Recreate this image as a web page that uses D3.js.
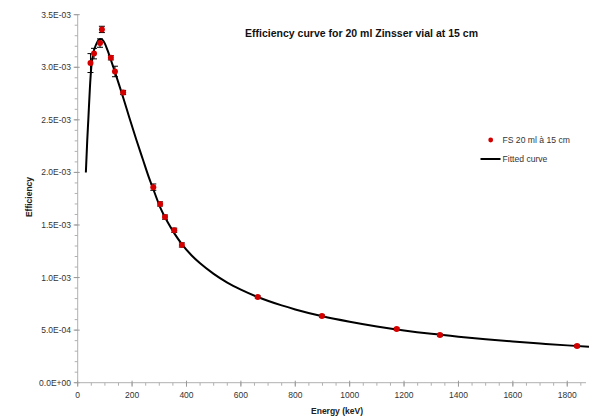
<!DOCTYPE html>
<html>
<head>
<meta charset="utf-8">
<script src="https://cdn.jsdelivr.net/npm/d3@7"></script>
<style>
  body { margin: 0; background: #fff; }
  svg { display: block; font-family: "Liberation Sans", Arial, sans-serif; }
</style>
</head>
<body>
<svg id="chart" width="589" height="416"></svg>
<script>
// measured points (energy in keV, efficiency and its uncertainty)
const energies = [47, 60, 82, 89, 122, 137, 167, 278, 303, 321, 355, 383, 662, 898, 1173, 1332, 1836];
const efficiency = [3.04e-3, 3.13e-3, 3.23e-3, 3.36e-3, 3.09e-3, 2.96e-3, 2.76e-3, 1.86e-3, 1.70e-3, 1.575e-3, 1.45e-3, 1.31e-3, 0.815e-3, 0.634e-3, 0.51e-3, 0.453e-3, 0.349e-3];
const uncertainty = [0.09e-3, 0.05e-3, 0.04e-3, 0.03e-3, 0.02e-3, 0.05e-3, 0.02e-3, 0.03e-3, 0.02e-3, 0.02e-3, 0.02e-3, 0.02e-3, 0.01e-3, 0.01e-3, 0.01e-3, 0.01e-3, 0.01e-3];

// fitted curve
const fitEnergy = [30, 35, 39, 45, 50, 57, 65, 70, 77, 85, 92, 100, 110, 122, 137, 152, 168, 190, 215, 240, 262, 278, 303, 330, 356, 383, 420, 450, 500, 550, 600, 662, 750, 800, 900, 1000, 1100, 1200, 1300, 1400, 1500, 1600, 1700, 1800, 1880];
const fitEfficiency = [2.00e-3, 2.30e-3, 2.50e-3, 2.81e-3, 3.00e-3, 3.13e-3, 3.20e-3, 3.23e-3, 3.26e-3, 3.27e-3, 3.258e-3, 3.225e-3, 3.16e-3, 3.07e-3, 2.955e-3, 2.835e-3, 2.705e-3, 2.52e-3, 2.315e-3, 2.12e-3, 1.95e-3, 1.84e-3, 1.67e-3, 1.53e-3, 1.418e-3, 1.318e-3, 1.207e-3, 1.135e-3, 1.035e-3, 0.952e-3, 0.885e-3, 0.815e-3, 0.735e-3, 0.697e-3, 0.632e-3, 0.58e-3, 0.535e-3, 0.497e-3, 0.465e-3, 0.438e-3, 0.414e-3, 0.392e-3, 0.373e-3, 0.355e-3, 0.342e-3];

const xMajor = [0, 200, 400, 600, 800, 1000, 1200, 1400, 1600, 1800];
const yMajor = [0, 0.5e-3, 1.0e-3, 1.5e-3, 2.0e-3, 2.5e-3, 3.0e-3, 3.5e-3];

const titleText = "Efficiency curve for 20 ml Zinsser vial at 15 cm";
const legendLabels = ["FS 20 ml à 15 cm", "Fitted curve"];

const svg = d3.select("#chart");

const x = d3.scaleLinear().domain([0, 1880]).range([77.7, 589]);
const y = d3.scaleLinear().domain([0, 3.5e-3]).range([382.7, 14.7]);

// scientific labels like 3.5E-03
function sci(v) {
    if (v === 0) return "0.0E+00";
    const e = Math.floor(Math.log10(v) + 1e-9);
    const m = v / Math.pow(10, e);
    const sign = e < 0 ? "-" : "+";
    return m.toFixed(1) + "E" + sign + String(Math.abs(e)).padStart(2, "0");
}

const axisColor = "#b0b0b0";
const textColor = "#333";

// y axis
const yAxis = svg.append("g");
yAxis.append("line")
    .attr("x1", x(0)).attr("x2", x(0))
    .attr("y1", y(3.5e-3)).attr("y2", y(0))
    .attr("stroke", axisColor);
yAxis.selectAll(".ymin")
    .data(d3.range(0, 36).map(i => i * 0.1e-3))
    .join("line")
    .attr("x1", x(0) - 3).attr("x2", x(0))
    .attr("y1", d => y(d)).attr("y2", d => y(d))
    .attr("stroke", axisColor);
yAxis.selectAll(".ymaj")
    .data(yMajor)
    .join("line")
    .attr("x1", x(0) - 4).attr("x2", x(0) + 2)
    .attr("y1", d => y(d)).attr("y2", d => y(d))
    .attr("stroke", "#999");
yAxis.selectAll("text")
    .data(yMajor)
    .join("text")
    .attr("x", 71)
    .attr("y", d => y(d))
    .attr("dy", "0.35em")
    .attr("text-anchor", "end")
    .attr("fill", textColor)
    .style("font-size", "8.5px")
    .text(d => sci(d));

// x axis
const xAxis = svg.append("g");
xAxis.append("line")
    .attr("x1", x(0)).attr("x2", 586)
    .attr("y1", y(0)).attr("y2", y(0))
    .attr("stroke", axisColor);
xAxis.selectAll(".xmin")
    .data(d3.range(0, 38).map(i => i * 50))
    .join("line")
    .attr("x1", d => x(d)).attr("x2", d => x(d))
    .attr("y1", y(0)).attr("y2", y(0) + 3)
    .attr("stroke", axisColor);
xAxis.selectAll(".xmaj")
    .data(xMajor)
    .join("line")
    .attr("x1", d => x(d)).attr("x2", d => x(d))
    .attr("y1", y(0) - 2).attr("y2", y(0) + 4)
    .attr("stroke", "#999");
xAxis.selectAll("text")
    .data(xMajor)
    .join("text")
    .attr("x", d => x(d))
    .attr("y", 395)
    .attr("dy", "0.35em")
    .attr("text-anchor", "middle")
    .attr("fill", textColor)
    .style("font-size", "8.5px")
    .text(d => d);

// axis titles
svg.append("text")
    .attr("x", 337).attr("y", 411.5)
    .attr("dy", "0.35em")
    .attr("text-anchor", "middle")
    .attr("fill", "#222")
    .style("font-size", "8.5px")
    .style("font-weight", "bold")
    .text("Energy (keV)");

svg.append("text")
    .attr("transform", "translate(29,197) rotate(-90)")
    .attr("dy", "0.35em")
    .attr("text-anchor", "middle")
    .attr("fill", "#222")
    .style("font-size", "8.5px")
    .style("font-weight", "bold")
    .text("Efficiency");

// chart title
svg.append("text")
    .attr("x", 245).attr("y", 33)
    .attr("dy", "0.35em")
    .attr("fill", "#111")
    .attr("textLength", 233)
    .attr("lengthAdjust", "spacingAndGlyphs")
    .style("font-size", "11px")
    .style("font-weight", "bold")
    .text(titleText);

// fitted curve
const line = d3.line()
    .x(d => x(d[0]))
    .y(d => y(d[1]))
    .curve(d3.curveMonotoneX);

svg.append("path")
    .datum(fitEnergy.map((e, i) => [e, fitEfficiency[i]]))
    .attr("d", line)
    .attr("fill", "none")
    .attr("stroke", "#000")
    .attr("stroke-width", 2);

// error bars
const pts = energies.map((e, i) => ({ e, v: efficiency[i], u: uncertainty[i] }));
const bars = svg.append("g").attr("stroke", "#000").attr("stroke-width", 1);
bars.selectAll(".stem")
    .data(pts)
    .join("line")
    .attr("x1", d => x(d.e)).attr("x2", d => x(d.e))
    .attr("y1", d => y(d.v + d.u)).attr("y2", d => y(d.v - d.u));
bars.selectAll(".capTop")
    .data(pts)
    .join("line")
    .attr("x1", d => x(d.e) - 3).attr("x2", d => x(d.e) + 3)
    .attr("y1", d => y(d.v + d.u)).attr("y2", d => y(d.v + d.u));
bars.selectAll(".capBot")
    .data(pts)
    .join("line")
    .attr("x1", d => x(d.e) - 3).attr("x2", d => x(d.e) + 3)
    .attr("y1", d => y(d.v - d.u)).attr("y2", d => y(d.v - d.u));

// measured points
svg.append("g").selectAll("circle")
    .data(pts)
    .join("circle")
    .attr("cx", d => x(d.e))
    .attr("cy", d => y(d.v))
    .attr("r", 3)
    .attr("fill", "#d40000");

// legend
const legend = svg.append("g");
legend.append("circle")
    .attr("cx", 490.7).attr("cy", 140)
    .attr("r", 2.4)
    .attr("fill", "#d40000");
legend.append("line")
    .attr("x1", 480.5).attr("x2", 500.5)
    .attr("y1", 159).attr("y2", 159)
    .attr("stroke", "#000")
    .attr("stroke-width", 2);
legend.selectAll("text")
    .data(legendLabels)
    .join("text")
    .attr("x", 502.5)
    .attr("y", (d, i) => 140 + i * 19)
    .attr("dy", "0.35em")
    .attr("fill", textColor)
    .style("font-size", "8.6px")
    .text(d => d);
</script>
</body>
</html>
